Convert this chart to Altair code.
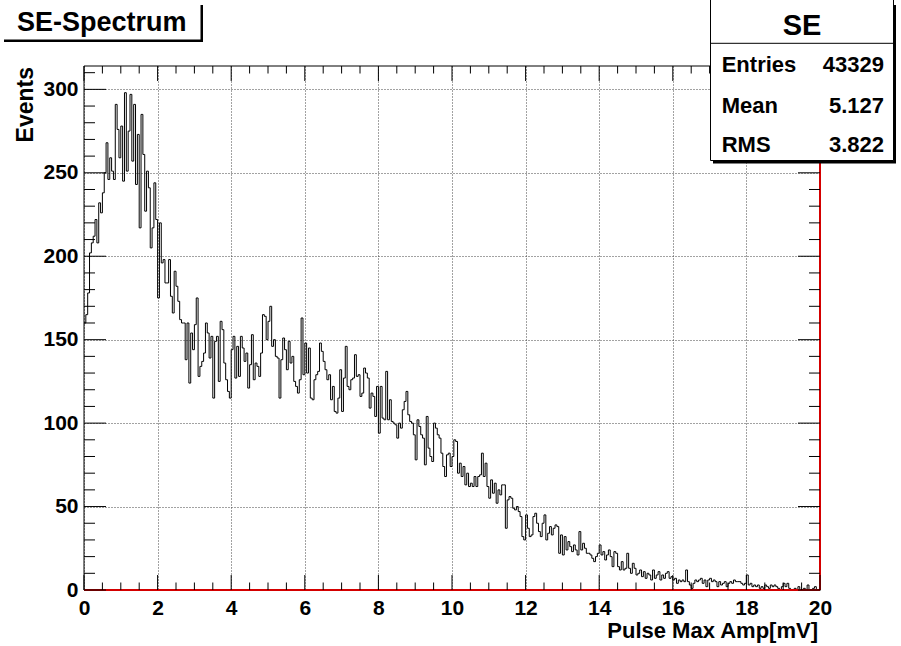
import altair as alt
import pandas as pd

# ---------------- data ----------------
BIN_WIDTH = 0.05
X_MIN, X_MAX = 0.0, 20.0
Y_MAX = 314

# bin contents, 0.05 mV bins, in sections
counts_0_to_2p7 = [160, 165, 178, 202, 208, 212, 222, 208, 232, 226,
                   238, 250, 268, 246, 259, 251, 246, 291, 276, 259,
                   278, 245, 298, 251, 275, 297, 257, 291, 243, 273,
                   217, 285, 261, 227, 251, 241, 205, 217, 244, 222,
                   175, 220, 196, 198, 184, 184, 198, 176, 166, 191,
                   182, 173, 162, 160]
counts_2p7_to_5p7 = [160, 138, 160, 124, 154, 144, 159, 175, 128, 134,
                     137, 142, 160, 154, 139, 152, 115, 149, 152, 125,
                     161, 156, 136, 126, 119, 115, 144, 152, 127, 146,
                     128, 152, 145, 137, 142, 121, 135, 153, 126, 136,
                     134, 128, 142, 165, 164, 150, 161, 170, 146, 150,
                     140, 139, 115, 138, 151, 144, 132, 149, 136, 140]
counts_5p7_to_8p55 = [125, 122, 118, 126, 163, 129, 148, 130, 145, 115,
                      114, 126, 129, 131, 148, 143, 137, 132, 126, 129,
                      114, 122, 107, 106, 115, 132, 107, 127, 146, 122,
                      120, 126, 127, 141, 128, 129, 116, 118, 133, 130,
                      127, 109, 118, 116, 104, 122, 94, 122, 103, 102,
                      131, 102, 114, 101, 100, 99, 91]
counts_8p55_to_11p4 = [100, 97, 108, 113, 119, 105, 101, 100, 93, 78,
                       102, 98, 93, 91, 75, 104, 85, 80, 77, 100,
                       97, 93, 91, 82, 74, 68, 81, 82, 74, 80,
                       90, 89, 70, 76, 68, 74, 63, 70, 62, 64,
                       62, 68, 62, 68, 69, 82, 68, 76, 62, 55,
                       66, 58, 64, 52, 60, 57, 63]
counts_11p4_to_14p25 = [63, 37, 54, 56, 55, 49, 48, 50, 47, 44,
                        32, 30, 45, 37, 32, 33, 44, 46, 40, 35,
                        32, 40, 45, 30, 34, 38, 33, 37, 39, 38,
                        22, 33, 21, 32, 24, 29, 26, 23, 27, 24,
                        21, 35, 24, 28, 25, 22, 22, 21, 19, 17,
                        20, 22, 27, 21, 23, 18, 21]
counts_14p25_to_17p1 = [24, 20, 14, 23, 22, 14, 12, 17, 12, 13,
                        22, 13, 10, 16, 13, 9, 10, 12, 8, 11,
                        7, 10, 9, 6, 12, 7, 9, 11, 6, 9,
                        7, 10, 11, 7, 8, 6, 7, 4, 6, 5,
                        6, 5, 12, 5, 3, 1, 4, 6, 5, 6,
                        7, 4, 6, 2, 6, 7, 5]
counts_17p1_to_20 = [6, 5, 2, 5, 3, 4, 5, 2, 4, 5,
                     4, 6, 5, 5, 5, 4, 3, 4, 9, 3,
                     4, 2, 3, 2, 3, 1, 2, 1, 3, 2,
                     1, 3, 2, 3, 2, 1, 0, 2, 4, 2,
                     4, 1, 0, 0, 1, 0, 2, 0, 0, 1,
                     0, 3, 0, 0, 1, 2, 0, 0]

counts = (counts_0_to_2p7 + counts_2p7_to_5p7 + counts_5p7_to_8p55 +
          counts_8p55_to_11p4 + counts_11p4_to_14p25 + counts_14p25_to_17p1 +
          counts_17p1_to_20)

x_major = [0, 2, 4, 6, 8, 10, 12, 14, 16, 18, 20]
y_major = [0, 50, 100, 150, 200, 250, 300]

title_text = "SE-Spectrum"
x_title = "Pulse Max Amp[mV]"
y_title = "Events"
stats_name = "SE"
stats_rows = [("Entries", "43329"), ("Mean", "5.127"), ("RMS", "3.822")]

# ---------------- build ----------------
edges = [round(i * BIN_WIDTH, 4) for i in range(len(counts))] + [X_MAX]
hist_df = pd.DataFrame({"x": edges, "n": counts + [counts[-1]]})

x_minor = [i * 0.5 for i in range(41) if (i * 0.5) % 2 != 0]
y_minor = [v for v in range(0, 311, 10) if v % 50 != 0]

W, H = 736, 524
FONT = "Liberation Sans"
xs = alt.Scale(domain=[X_MIN, X_MAX], nice=False, zero=False)
ys = alt.Scale(domain=[0, Y_MAX], nice=False, zero=False)

x_axis = alt.Axis(
    values=x_major, format="d", title=None, ticks=False, domain=False,
    grid=True, gridColor="#444", gridDash=[1, 2], gridWidth=1,
    labelFont=FONT, labelFontSize=21, labelFontWeight="bold",
    labelColor="black", labelPadding=7, labelFlush=False,
    labelOverlap=False, labelBound=False)
y_axis = alt.Axis(
    values=y_major, format="d", title=None, ticks=False, domain=False,
    grid=True, gridColor="#444", gridDash=[1, 2], gridWidth=1,
    labelFont=FONT, labelFontSize=21, labelFontWeight="bold",
    labelColor="black", labelPadding=6, labelFlush=False,
    labelOverlap=False, labelBound=False)

one = alt.Data(values=[{"k": 1}])

hist = alt.Chart(hist_df).mark_line(
    interpolate="step-after", color="black", strokeWidth=1
).encode(
    x=alt.X("x:Q", scale=xs, axis=x_axis),
    y=alt.Y("n:Q", scale=ys, axis=y_axis),
)


def xticks(vals, length):
    df = pd.DataFrame({"x": vals})
    base = alt.Chart(df).mark_rule(color="black", strokeWidth=1)
    bottom = base.encode(x=alt.X("x:Q", scale=xs, axis=x_axis),
                         y=alt.value(H), y2=alt.value(H - length))
    top = base.encode(x=alt.X("x:Q", scale=xs, axis=x_axis),
                      y=alt.value(0), y2=alt.value(length))
    return [bottom, top]


def yticks(vals, length):
    df = pd.DataFrame({"n": vals})
    base = alt.Chart(df).mark_rule(color="black", strokeWidth=1)
    left = base.encode(y=alt.Y("n:Q", scale=ys, axis=y_axis),
                       x=alt.value(0), x2=alt.value(length))
    right = base.encode(y=alt.Y("n:Q", scale=ys, axis=y_axis),
                        x=alt.value(W), x2=alt.value(W - length))
    return [left, right]


def rule(x1, y1, x2, y2, color="black", width=1):
    return alt.Chart(one).mark_rule(color=color, strokeWidth=width).encode(
        x=alt.value(x1), y=alt.value(y1), x2=alt.value(x2), y2=alt.value(y2))


def rect(x1, y1, x2, y2, fill, stroke=None):
    kw = dict(fill=fill)
    if stroke:
        kw.update(stroke=stroke, strokeWidth=1)
    return alt.Chart(one).mark_rect(**kw).encode(
        x=alt.value(x1), y=alt.value(y1), x2=alt.value(x2), y2=alt.value(y2))


def text(s, x, y, size, align="left", angle=0):
    kw = dict(font=FONT, fontSize=size, fontWeight="bold", color="black",
              align=align, baseline="alphabetic")
    if angle:
        kw["angle"] = angle
    return alt.Chart(one).mark_text(**kw).encode(
        x=alt.value(x), y=alt.value(y), text=alt.value(s))


layers = [hist]
# frame
layers += [rule(0, 0, 0, H), rule(0, 0, W, 0),
           rule(0, H, W, H, color="#d40000", width=2),
           rule(W, 0, W, H, color="#d40000", width=2)]
layers += xticks(x_major, 15) + xticks(x_minor, 7.5)
layers += yticks(y_major, 22) + yticks(y_minor, 11)

# title pave (shadow only)
layers += [rect(-80, -61, 119, -24, "black"), rect(-90, -70, 116.5, -26.5, "white")]
layers += [text(title_text, 17.7, -35.3, 27, align="center")]

# stats box
layers += [rect(629, -61, 812, 97.5, "black"),
           rect(626.5, -75, 809.5, 94.5, "white", stroke="black"),
           rule(626.5, -22.7, 809.5, -22.7)]
layers += [text(stats_name, 718, -31, 29, align="center")]
row_base = [5.7, 47.3, 85.7]
for (lab, val), yb in zip(stats_rows, row_base):
    layers += [text(lab, 637.7, yb, 22, align="left"),
               text(val, 800, yb, 22, align="right")]

# axis titles
layers += [text(x_title, 734, 572, 22, align="right"),
           text(y_title, -51, 1, 23, align="right", angle=270)]

chart = alt.layer(*layers).properties(
    width=W, height=H,
    padding={"left": 84, "top": 66, "right": 81, "bottom": 56},
    autosize=alt.AutoSizeParams(type="none"),
    background="white",
).configure_view(stroke=None)

chart.save("out.html", embed_options={"renderer": "svg", "actions": False})
